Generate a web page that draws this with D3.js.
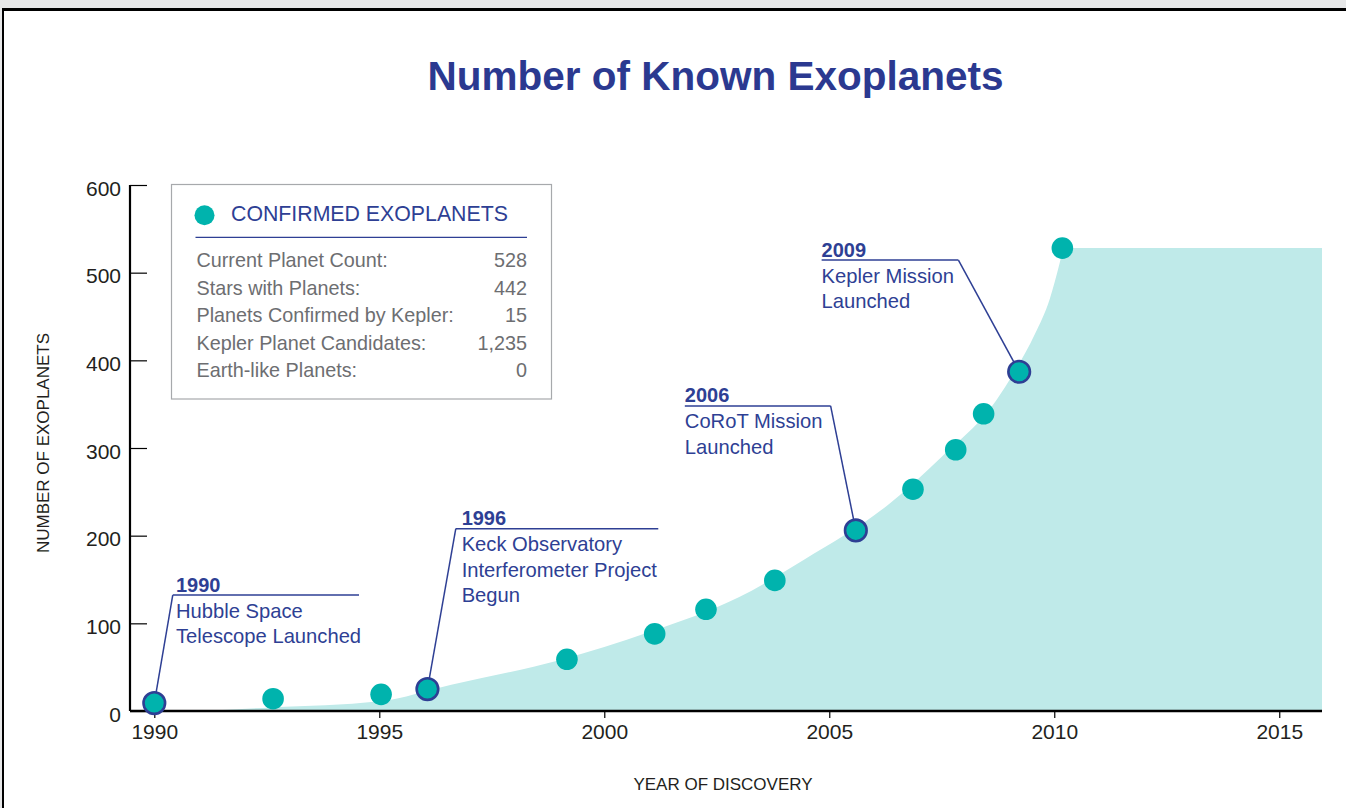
<!DOCTYPE html>
<html><head><meta charset="utf-8">
<script src="https://cdn.jsdelivr.net/npm/d3@7"></script>
<style>
body{margin:0;background:#fff;}
svg{display:block;font-family:"Liberation Sans",Arial,Helvetica,sans-serif;}
</style>
</head><body>
<svg id="chart" width="1346" height="808"></svg>
<script>
// ---- data ----
const years  = [1990.0, 1992.64, 1995.04, 1996.07, 1999.17, 2001.12, 2002.26, 2003.79, 2005.59, 2006.86, 2007.81, 2008.43, 2009.22, 2010.18];
const counts = [9, 14, 19, 25, 59, 88, 116, 149, 206, 253, 298, 339, 387, 528];
const trendYears  = [1991.0, 1992.6, 1995.0, 1996.6, 1999.0, 2001.0, 2003.0, 2004.42, 2006.35, 2007.5, 2008.72, 2009.09, 2009.57, 2009.9, 2010.12, 2010.2];
const trendCounts = [0, 4, 11, 30, 58, 90, 130, 172, 237, 290, 355, 385, 430, 470, 511, 528];
const plateauEndYear = 2015.95;
const plateauCount = 528;
const xTicks = [1990, 1995, 2000, 2005, 2010, 2015];
const yTicks = [0, 100, 200, 300, 400, 500, 600];
const annotYears = ["1990", "1996", "2006", "2009"];
const annotText = [["Hubble Space", "Telescope Launched"], ["Keck Observatory", "Interferometer Project", "Begun"], ["CoRoT Mission", "Launched"], ["Kepler Mission", "Launched"]];
const annotPoint = [0, 3, 8, 12];
const legendTitle = "CONFIRMED EXOPLANETS";
const legendLabels = ["Current Planet Count:", "Stars with Planets:", "Planets Confirmed by Kepler:", "Kepler Planet Candidates:", "Earth-like Planets:"];
const legendValues = ["528", "442", "15", "1,235", "0"];

// ---- layout (data-space anchors for annotation leaders) ----
const annotElbow = [[1990.41, 132.3], [1996.70, 208], [2005.03, 348], [2007.87, 514.4]];
const annotLine  = [[1990.41, 1994.55], [1996.70, 2001.2], [2001.79, 2005.03], [2004.83, 2007.87]];
const annotTextX = [1990.48, 1996.83, 2001.79, 2004.83];

const C = {title:"#2b3990", blue:"#2e3f94", teal:"#00b3ad", area:"#bfeae9", tick:"#231f20", gray:"#6d6e71"};

const svg = d3.select("#chart");
const x = d3.scaleLinear().domain([1989.46, 2015.95]).range([130, 1322]);
const y = d3.scaleLinear().domain([0, 600]).range([711, 185]);

// frame
svg.append("rect").attr("x",0).attr("y",0).attr("width",1346).attr("height",8).attr("fill","#e6e7e8");
svg.append("rect").attr("x",0).attr("y",0).attr("width",2).attr("height",808).attr("fill","#e6e7e8");
svg.append("rect").attr("x",2).attr("y",8).attr("width",1344).attr("height",3).attr("fill","#000");
svg.append("rect").attr("x",2).attr("y",8).attr("width",2).attr("height",800).attr("fill","#000");

// title
svg.append("text").attr("x",715.5).attr("y",90).attr("text-anchor","middle")
  .attr("font-size",40.5).attr("font-weight","bold").attr("fill",C.title).text("Number of Known Exoplanets");

// area
const trendPts = trendYears.map((d,i)=>[d, trendCounts[i]]);
const curvePath = d3.line().x(d=>x(d[0])).y(d=>y(d[1])).curve(d3.curveMonotoneX)(trendPts);
const restPath = d3.line().x(d=>x(d[0])).y(d=>y(d[1]))([[plateauEndYear, plateauCount],[plateauEndYear,0],[trendYears[0],0]]).replace(/^M/,"L");
svg.append("path").attr("d", curvePath + restPath + "Z").attr("fill", C.area);

// axes
const gx = svg.append("g").attr("transform",`translate(0,${y(0)})`)
  .call(d3.axisBottom(x).tickValues(xTicks).tickSize(7).tickFormat(d3.format("d")));
gx.select(".domain").remove();
gx.append("line").attr("x1",x.range()[0]).attr("x2",x.range()[1]).attr("stroke","#000").attr("stroke-width",2.5);
gx.selectAll(".tick line").attr("stroke","#000").attr("stroke-width",1.2);
gx.selectAll(".tick text").attr("font-size",21).attr("fill",C.tick).attr("dy",null).attr("y",27.5)
  .attr("font-family","Liberation Sans, Arial, sans-serif");

const gy = svg.append("g").attr("transform",`translate(${x.range()[0]},0)`)
  .call(d3.axisRight(y).tickValues(yTicks).tickSize(17).tickFormat(d3.format("d")));
gy.select(".domain").remove();
gy.append("line").attr("y1",y(0)).attr("y2",y(600)).attr("stroke","#000").attr("stroke-width",2.2);
gy.selectAll(".tick line").attr("stroke","#000").attr("stroke-width",1.2);
gy.selectAll(".tick text").attr("font-size",21).attr("fill",C.tick).attr("text-anchor","end")
  .attr("x",-9).attr("dy",null).attr("y",10).attr("font-family","Liberation Sans, Arial, sans-serif");

// axis titles
svg.append("text").attr("transform","translate(49,443) rotate(-90)").attr("text-anchor","middle")
  .attr("font-size",17).attr("fill","#231f20").text("NUMBER OF EXOPLANETS");
svg.append("text").attr("x",723).attr("y",790).attr("text-anchor","middle")
  .attr("font-size",17).attr("fill","#231f20").text("YEAR OF DISCOVERY");

// annotations: leader lines and text
annotYears.forEach((yr,i)=>{
  const p = annotPoint[i];
  const [ex, ev] = annotElbow[i];
  const g = svg.append("g");
  g.append("line").attr("x1",x(annotLine[i][0])).attr("x2",x(annotLine[i][1]))
    .attr("y1",y(ev)).attr("y2",y(ev)).attr("stroke",C.blue).attr("stroke-width",1.5);
  g.append("line").attr("x1",x(ex)).attr("y1",y(ev)).attr("x2",x(years[p])).attr("y2",y(counts[p]))
    .attr("stroke",C.blue).attr("stroke-width",1.5);
  const tx = x(annotTextX[i]);
  g.append("text").attr("x",tx).attr("y",y(ev)-3.5).attr("font-size",20).attr("font-weight","bold")
    .attr("fill",C.blue).text(yr);
  annotText[i].forEach((t,j)=>{
    g.append("text").attr("x",tx).attr("y",y(ev)+22.5+25.5*j).attr("font-size",20.2)
      .attr("fill",C.blue).text(t);
  });
});

// dots
svg.append("g").selectAll("circle").data(years).join("circle")
  .attr("cx",d=>x(d)).attr("cy",(d,i)=>y(counts[i]))
  .attr("r",10.8)
  .attr("fill",C.teal)
  .attr("stroke",(d,i)=>annotPoint.includes(i)?C.blue:"none")
  .attr("stroke-width",2.6);

// legend
const lg = svg.append("g");
lg.append("rect").attr("x",171.5).attr("y",184.5).attr("width",380).attr("height",214.5)
  .attr("fill","#fff").attr("stroke","#a7a9ac").attr("stroke-width",1.2);
lg.append("circle").attr("cx",204.5).attr("cy",215.3).attr("r",10).attr("fill",C.teal);
lg.append("text").attr("x",231).attr("y",221).attr("font-size",21.3).attr("fill",C.blue).text(legendTitle);
lg.append("line").attr("x1",195.5).attr("x2",527).attr("y1",237.3).attr("y2",237.3)
  .attr("stroke",C.blue).attr("stroke-width",1.3);
legendLabels.forEach((t,i)=>{
  lg.append("text").attr("x",196.5).attr("y",267.3+27.5*i).attr("font-size",19.8).attr("fill",C.gray).text(t);
  lg.append("text").attr("x",527).attr("y",267.3+27.5*i).attr("font-size",19.8).attr("fill",C.gray)
    .attr("text-anchor","end").text(legendValues[i]);
});
</script>
</body></html>
